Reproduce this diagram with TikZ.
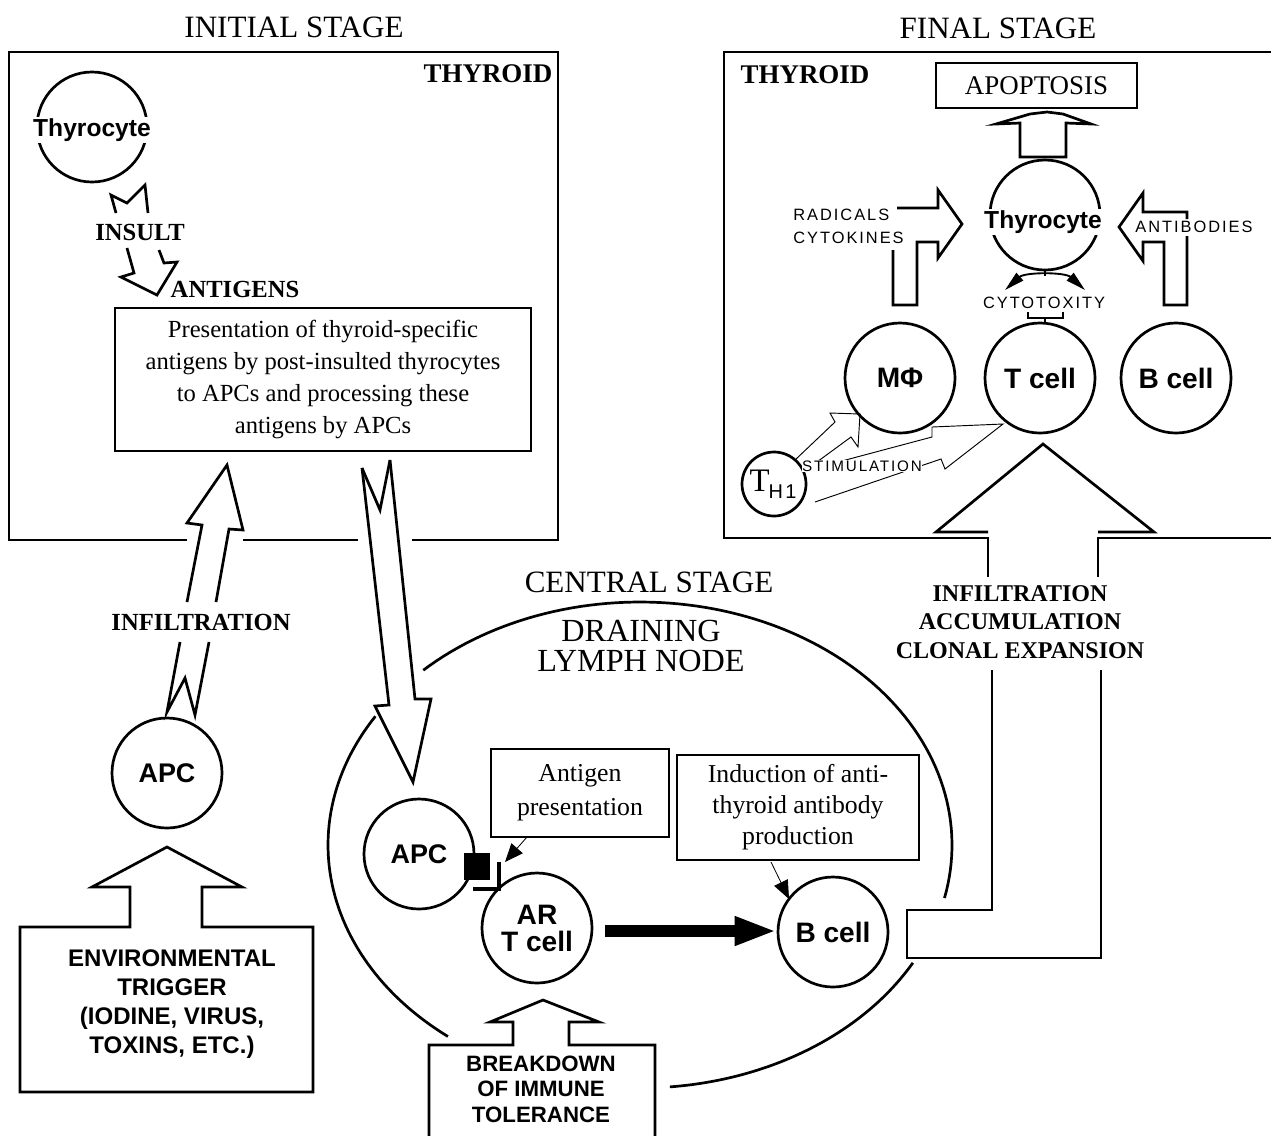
\documentclass[tikz,border=0pt]{standalone}
\usepackage{fontspec}
\setmainfont{Liberation Serif}
\setsansfont{Liberation Sans}
\newfontfamily\spacedsans{Liberation Sans}[LetterSpace=12]
\usetikzlibrary{arrows.meta}
\newcommand\myfs[2]{\fontsize{#1pt}{#2pt}\selectfont}
\tikzset{
  heavy/.style={line width=2.3pt, line join=miter},
  hollow/.style={line width=2.3pt, line join=miter},
  thinhollow/.style={line width=0.8pt, line join=miter},
  thinbox/.style={draw, line width=1.1pt, inner sep=0pt, align=center},
  cell/.style={circle, draw, line width=2.3pt, minimum size=3.3cm, inner sep=0pt, align=center, font=\sffamily\bfseries\myfs{24}{23}},
  stagetitle/.style={font=\rmfamily\myfs{26.5}{30}},
  boldlbl/.style={font=\rmfamily\bfseries\myfs{21}{24.3}, align=center, inner sep=1pt},
  smalllbl/.style={font=\spacedsans\myfs{14}{16}, inner sep=1pt},
  celltext/.style={font=\sffamily\bfseries\myfs{21}{24}, fill=white, inner sep=1pt},
  ptr/.style={line width=0.7pt, -{Triangle[length=0.55cm,width=0.45cm]}},
}
\begin{document}
\begin{tikzpicture}[x=0.03cm,y=-0.03cm]
\fill[white] (0,0) rectangle (1271,1135);
\useasboundingbox (0,0) rectangle (1271,1135);

% ---------- titles
\node[stagetitle] (tinit) at (294,27) {INITIAL STAGE};
\node[stagetitle] (tfin) at (998,28) {FINAL STAGE};
\node[stagetitle] (tcen) at (649,582) {CENTRAL STAGE};

% ---------- initial stage
\draw[heavy] (187,540) -- (9,540) -- (9,52) -- (558,52) -- (558,540) -- (412,540);
\draw[heavy] (243,540) -- (358,540);
\node[boldlbl, font=\rmfamily\bfseries\myfs{23}{25}] (thyl) at (488,74) {THYROID};

\node[cell] (thy1) at (92,127) {};
\node[celltext] (thy1t) at (92,130) {Thyrocyte};

\draw[hollow] (116,213) -- (111,195) -- (127,203) -- (145,185) -- (148,213);
\draw[hollow] (127,248) -- (134,273) -- (121,277) -- (157,295) -- (177,262) -- (164,263) -- (159,250);
\node[boldlbl] (insult) at (140,232) {INSULT};
\node[boldlbl] (antig) at (235,289) {ANTIGENS};

\node[thinbox, minimum width=12.48cm, minimum height=4.29cm, font=\rmfamily\myfs{21}{27.3}] (pres) at (323,379.5)
  {Presentation of thyroid-specific\\antigens by post-insulted thyrocytes\\to APCs and processing these\\antigens by APCs};

% infiltration arrow (up)
\draw[hollow] (187,602) -- (202,525) -- (187,523) -- (227,465) -- (243,530) -- (229,529) -- (216,602);
\draw[hollow] (180,642) -- (167,712) -- (185,678) -- (195,715) -- (209,642);
\node[boldlbl] (infl) at (201,622) {INFILTRATION};
\node[cell, font=\sffamily\bfseries\myfs{23}{23}] (apc1) at (167,773) {APC};

% environmental trigger
\draw[hollow] (130,927) -- (130,887) -- (92,887) -- (167,847) -- (242,887) -- (202,887) -- (202,927)
  -- (313,927) -- (313,1092) -- (20,1092) -- (20,927) -- cycle;
\node[font=\sffamily\bfseries\myfs{20.5}{24.7}, align=center] (env) at (172,1004)
  {ENVIRONMENTAL\\TRIGGER\\(IODINE, VIRUS,\\TOXINS, ETC.)};

% down arrow to lymph node
\draw[hollow] (362,468) -- (380,510) -- (390,460);
\draw[hollow] (362,468) -- (389,705) -- (375,706) -- (413,782) -- (431,699) -- (415,699) -- (390,460);

% ---------- central stage: lymph node
\draw[heavy] plot[domain=134:-12.6, samples=90] ({640+312*cos(\x)},{845-243*sin(\x)});
\draw[heavy] plot[domain=148:232, samples=60] ({640+312*cos(\x)},{845-243*sin(\x)});
\draw[heavy] plot[domain=275.5:331, samples=50] ({640+312*cos(\x)},{845-243*sin(\x)});
\node[font=\rmfamily\myfs{27.5}{25.6}, align=center] (dln) at (641,646) {DRAINING\\LYMPH NODE};

\node[cell, font=\sffamily\bfseries\myfs{23}{23}] (apc2) at (419,854) {APC};
\node[fill=black, minimum width=0.78cm, minimum height=0.81cm, inner sep=0pt] (mhc) at (477,866) {};
\draw[line width=3.2pt] (499,862) -- (499,889) -- (473,889);
\node[cell] (art) at (537,928) {AR\\T cell};
\node[cell] (bc2) at (833,932) {B cell};

\node[thinbox, minimum width=5.34cm, minimum height=2.64cm, font=\rmfamily\myfs{22}{29}] (ag) at (580,793) {Antigen\\presentation};
\node[thinbox, minimum width=7.26cm, minimum height=3.15cm, font=\rmfamily\myfs{22}{26.5}] (ind) at (798,807.5) {Induction of anti-\\thyroid antibody\\production};
\coordinate (agtip) at (505,862);
\coordinate (indtip) at (789,899);
\draw[ptr] (527,837) -- (agtip);
\draw[ptr] (771,862) -- (indtip);
\coordinate (thkstart) at (605,931);
\draw[line width=11pt, -{Triangle[length=1.26cm,width=0.8cm]}] (thkstart) -- (thkstart -| bc2.west);

% breakdown of tolerance
\draw[hollow] (429,1140) -- (429,1045) -- (513,1045) -- (513,1022) -- (490,1022) -- (543,1000) -- (599,1022)
  -- (569,1022) -- (569,1045) -- (655,1045) -- (655,1140);
\node[font=\sffamily\bfseries\myfs{19}{21.8}, align=center] (brk) at (541,1089) {BREAKDOWN\\OF IMMUNE\\TOLERANCE};

% pipe to final stage
\draw[hollow] (992,670) -- (992,910) -- (907,910) -- (907,958) -- (1101,958) -- (1101,670);
\node[boldlbl, font=\rmfamily\bfseries\myfs{20.5}{24.3}] (iac) at (1020,622) {INFILTRATION\\ACCUMULATION\\CLONAL EXPANSION};

% ---------- final stage
\draw[heavy] (1280,52) -- (724,52) -- (724,538) -- (988,538) -- (988,577);
\draw[heavy] (1098,577) -- (1098,538) -- (1280,538);
\draw[hollow] (988,532) -- (936,532) -- (1043,444) -- (1154,532) -- (1098,532);
\node[boldlbl, font=\rmfamily\bfseries\myfs{23}{25}] (thyr) at (805,75) {THYROID};

\node[thinbox, minimum width=6.03cm, minimum height=1.35cm, font=\rmfamily\myfs{23}{25}] (apop) at (1036.5,85.5) {APOPTOSIS};
\draw[hollow] (1020,157) -- (1020,123) -- (996,124) -- (1030,114) -- (1047,112) -- (1063,114) -- (1091,124)
  -- (1066,123) -- (1066,157) -- cycle;

\node[cell] (thy2) at (1045,215) {};
\node[celltext] (thy2t) at (1043,222) {Thyrocyte};

\draw[hollow] (897,208) -- (938,208) -- (938,190) -- (962,224) -- (938,258) -- (938,242) -- (917,242)
  -- (917,305) -- (893,305) -- (893,250);
\node[smalllbl, anchor=west] (rad) at (792,215) {RADICALS};
\node[smalllbl, anchor=west] (cyk) at (792,238) {CYTOKINES};

\draw[hollow] (1187,219) -- (1187,212) -- (1143,212) -- (1143,193) -- (1119,227) -- (1143,261) -- (1143,242)
  -- (1164,242) -- (1164,305) -- (1187,305) -- (1187,236);
\node[smalllbl] (antib) at (1194,227) {ANTIBODIES};

\draw[line width=1.6pt, {Triangle[length=0.6cm,width=0.3cm]}-{Triangle[length=0.6cm,width=0.3cm]}]
  (1005,290) .. controls (1025,272) and (1065,272) .. (1085,290);
\draw[line width=1.6pt] (1045,270) -- (1045,276);
\node[smalllbl] (cytox) at (1044,303) {CYTOTOXITY};
\draw[line width=2pt] (1028,312) -- (1028,318) -- (1063,318) -- (1063,312);
\draw[line width=2pt] (1045,318) -- (1045,324);

\node[cell] (mphi) at (900,378) {MΦ};
\node[cell] (tc3) at (1040,378) {T cell};
\node[cell] (bc3) at (1176,378) {B cell};

\node[circle, draw, line width=2.3pt, minimum size=1.92cm, inner sep=0pt] (th1) at (774,484) {};
\node[inner sep=0pt] (th1t) at (773,484) {{\rmfamily\myfs{28}{28}T}\kern-1pt\raisebox{-6pt}{\spacedsans\myfs{17}{17}H1}};

\draw[thinhollow] (795,460) -- (835,422) -- (830,413) -- (860,414) -- (858,447) -- (851,437) -- (806,470);
\draw[thinhollow] (808,470) -- (932,437) -- (932,427) -- (1003,424) -- (945,469) -- (941,459) -- (815,502);
\node[smalllbl, font=\spacedsans\myfs{13}{14}, fill=white, inner sep=0.5pt] (stim) at (862,466) {STIMULATION};
\end{tikzpicture}
\end{document}
